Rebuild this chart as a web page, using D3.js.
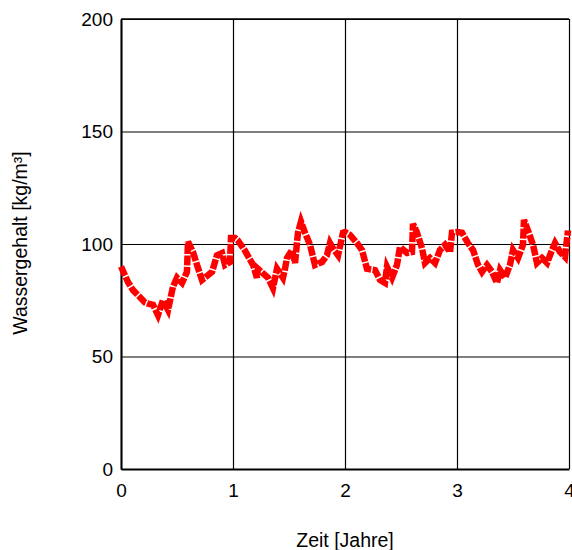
<!DOCTYPE html>
<html>
<head>
<meta charset="utf-8">
<script src="https://cdn.jsdelivr.net/npm/d3@7"></script>
<style>
  body { margin: 0; background: #fff; }
  text { font-family: "Liberation Sans", Arial, sans-serif; }
</style>
</head>
<body>
<svg id="chart"></svg>
<script>
// Zeit in Jahren und Wassergehalt in kg/m³
var years = [0, 0.063, 0.107, 0.214, 0.241, 0.286, 0.33, 0.375, 0.42, 0.464, 0.5, 0.545, 0.589, 0.598,
    0.643, 0.679, 0.723, 0.813, 0.857, 0.902, 0.929, 0.973, 0.982, 1.018, 1.045, 1.107, 1.179, 1.214,
    1.223, 1.313, 1.357, 1.393, 1.446, 1.464, 1.482, 1.527, 1.554, 1.58, 1.607, 1.643, 1.688, 1.732,
    1.795, 1.839, 1.866, 1.893, 1.938, 1.982, 2.0, 2.045, 2.107, 2.152, 2.196, 2.268, 2.313, 2.357,
    2.375, 2.42, 2.464, 2.491, 2.554, 2.598, 2.607, 2.643, 2.688, 2.714, 2.759, 2.804, 2.848, 2.893,
    2.938, 2.955, 3.0, 3.045, 3.098, 3.143, 3.188, 3.223, 3.268, 3.313, 3.357, 3.384, 3.429, 3.473,
    3.5, 3.545, 3.589, 3.598, 3.634, 3.679, 3.714, 3.759, 3.804, 3.848, 3.875, 3.92, 3.964, 3.991];
var water = [90, 83, 79.5, 74, 73.5, 73, 68.4, 75, 70.7, 81, 85, 82.7, 87.6, 101,
    96.4, 90.7, 84, 87.6, 95, 96, 90.7, 92, 102.7, 102.7, 101.5, 97, 90.7, 85,
    89, 85, 80.4, 89, 85, 89, 93.8, 97.3, 91.6, 105, 110, 105, 99.6, 90.7,
    92, 95, 100.4, 98, 95, 105, 105.3, 104, 100.4, 97.3, 89, 88.4, 84, 82.7,
    89.8, 85, 90.7, 98.7, 96, 96.4, 109, 105, 98, 91.6, 93.8, 91.6, 97.3, 99.6,
    96.4, 105, 105.3, 105, 100.4, 97.3, 90.7, 87.6, 90.7, 87.6, 82.7, 88.4, 85, 90.7,
    97.3, 93.8, 99.6, 110.7, 106, 99.6, 91.6, 93.8, 91.6, 97.3, 100.4, 96.4, 94.2, 106];
var xTicks = [0, 1, 2, 3, 4];
var yTicks = [0, 50, 100, 150, 200];

var margin = {left: 121, right: 3, top: 19, bottom: 81};
var width = 572 - margin.left - margin.right;
var height = 550 - margin.top - margin.bottom;

var svg = d3.select("#chart")
    .attr("width", 572)
    .attr("height", 550);
var g = svg.append("g")
    .attr("transform", "translate(" + [margin.left, margin.top] + ")");

var x = d3.scaleLinear().domain([0, 4]).range([0, width]);
var y = d3.scaleLinear().domain([0, 200]).range([height, 0]);

// Gitter
g.append("g")
    .call(d3.axisLeft(y).tickValues(yTicks).tickSize(-width).tickFormat(""))
    .call(function (a) { a.select(".domain").remove(); })
    .selectAll("line").attr("stroke", "#000").attr("stroke-width", 1.2);
g.append("g")
    .attr("transform", "translate(0," + height + ")")
    .call(d3.axisBottom(x).tickValues(xTicks).tickSize(-height).tickFormat(""))
    .call(function (a) { a.select(".domain").remove(); })
    .selectAll("line").attr("stroke", "#000").attr("stroke-width", 1.2);

// Achsen
var yAxis = g.append("g")
    .call(d3.axisLeft(y).tickValues(yTicks).tickSize(0).tickPadding(8).tickFormat(d3.format("d")));
yAxis.select(".domain").attr("stroke", "#000").attr("stroke-width", 2);
yAxis.selectAll("text").style("font-size", "19px").attr("fill", "#000");

var xAxis = g.append("g")
    .attr("transform", "translate(0," + height + ")")
    .call(d3.axisBottom(x).tickValues(xTicks).tickSize(0).tickPadding(15).tickFormat(d3.format("d")));
xAxis.select(".domain").attr("stroke", "#000").attr("stroke-width", 2);
xAxis.selectAll("text").style("font-size", "19px").attr("fill", "#000");

g.append("line")
    .attr("x1", 0).attr("x2", width).attr("y1", 0).attr("y2", 0)
    .attr("stroke", "#000").attr("stroke-width", 1.5);

// Datenlinie
var line = d3.line()
    .x(function (d, i) { return x(years[i]); })
    .y(function (d) { return y(d); });

g.append("path")
    .datum(water)
    .attr("fill", "none")
    .attr("stroke", "#ff0000")
    .attr("stroke-width", 6.5)
    .attr("stroke-dasharray", "10,1.5")
    .attr("d", line);

// Achsentitel
svg.append("text")
    .style("font-size", "19.5px")
    .attr("text-anchor", "middle")
    .attr("x", 345)
    .attr("y", 547)
    .text("Zeit [Jahre]");

svg.append("text")
    .style("font-size", "19.5px")
    .attr("text-anchor", "middle")
    .attr("transform", "translate(27,243)rotate(-90)")
    .text("Wassergehalt [kg/m³]");
</script>
</body>
</html>
